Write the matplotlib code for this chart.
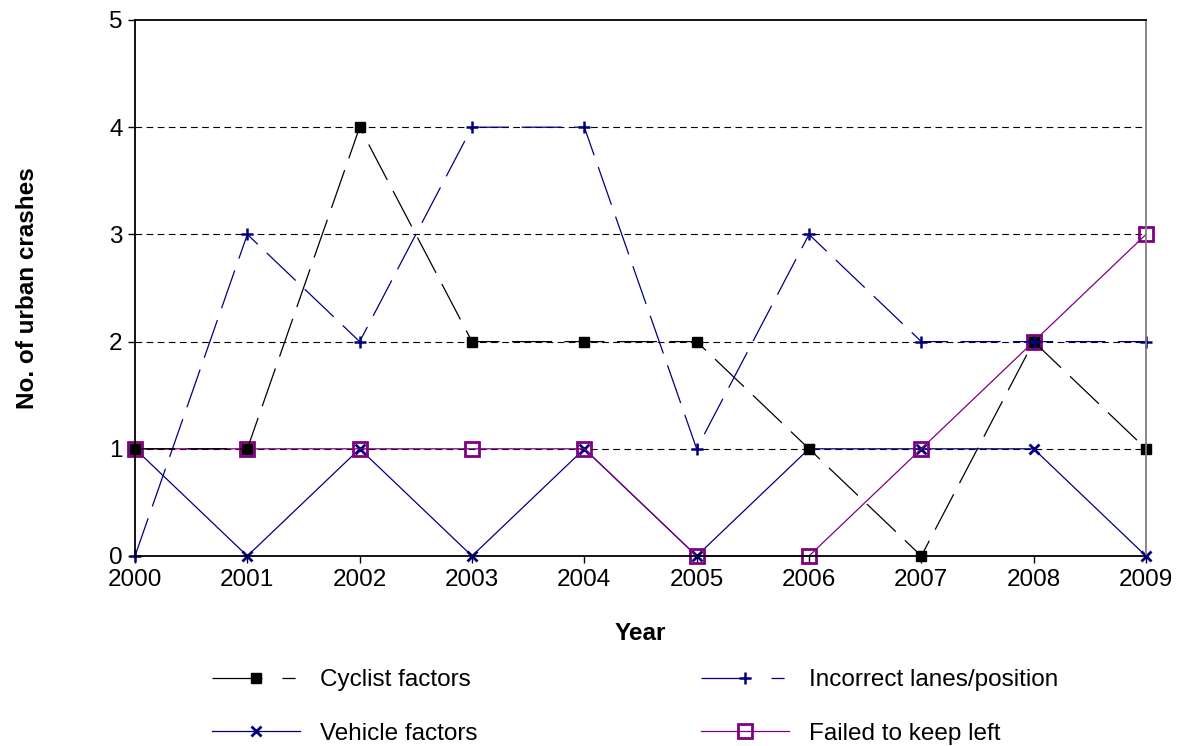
import matplotlib.pyplot as plt
from matplotlib.lines import Line2D

plt.rcParams['font.family'] = ['Liberation Sans', 'DejaVu Sans']

years = [2000, 2001, 2002, 2003, 2004, 2005, 2006, 2007, 2008, 2009]
cyclist = [1, 1, 4, 2, 2, 2, 1, 0, 2, 1]
incorrect = [0, 3, 2, 4, 4, 1, 3, 2, 2, 2]
vehicle = [1, 0, 1, 0, 1, 0, 1, 1, 1, 0]
failed_left = [1, 1, 1, 1, 1, 0, 0, 1, 2, 3]

NAVY = '#000080'
PURPLE = '#800080'
FS = 17.5

fig = plt.figure(figsize=(11.77, 7.46), dpi=100)
ax = fig.add_axes([135 / 1177, 1 - 556 / 746, (1146 - 135) / 1177, (556 - 20) / 746])

for y in [1, 2, 3, 4]:
    ax.axhline(y, color='black', lw=0.8, ls=(0, (6, 4)), zorder=0)

vstyle = dict(color=NAVY, lw=0.9, marker='x', ms=7, mew=2)
fstyle = dict(color=PURPLE, lw=0.9, marker='s', ms=10, mew=2, mfc='none')
cstyle = dict(color='black', lw=0.9, marker='s', ms=7)
istyle = dict(color=NAVY, lw=0.9, marker='+', ms=9, mew=1.8)

ax.plot(years, vehicle, clip_on=False, **vstyle)
ax.plot(years, failed_left, clip_on=False, **fstyle)
ax.plot(years, cyclist, ls=(0, (32, 10)), clip_on=False, **cstyle)
ax.plot(years, incorrect, ls=(0, (32, 10)), clip_on=False, **istyle)

ax.set_xlim(2000, 2009)
ax.set_ylim(0, 5)
ax.set_xticks(years)
ax.set_yticks(range(6))
ax.tick_params(labelsize=FS, direction='out', length=5, width=1, pad=4)
ax.tick_params(axis='x', pad=4)
ax.set_xlabel('Year', fontsize=FS, fontweight='bold', labelpad=23)
ax.set_ylabel('No. of urban crashes', fontsize=FS, fontweight='bold', labelpad=50)
for s in ['left', 'bottom', 'top']:
    ax.spines[s].set_linewidth(1.3)
ax.spines['right'].set_color('#808080')
ax.spines['right'].set_linewidth(1.3)

leg_dash = (0, (40, 16, 10.5, 100))
handles = [
    Line2D([], [], ls=leg_dash, **cstyle),
    Line2D([], [], **vstyle),
    Line2D([], [], ls=leg_dash, **istyle),
    Line2D([], [], **fstyle),
]
labels = ['Cyclist factors', 'Vehicle factors', 'Incorrect lanes/position',
          'Failed to keep left']
fig.legend(handles, labels, ncol=2,
           loc='upper left', bbox_to_anchor=(212 / 1177, 1 - 669 / 746),
           frameon=False, fontsize=FS, handlelength=3.6, handletextpad=0.85,
           columnspacing=9.2, labelspacing=1.3, borderpad=0, borderaxespad=0)

fig.savefig('out.png', dpi=100)
